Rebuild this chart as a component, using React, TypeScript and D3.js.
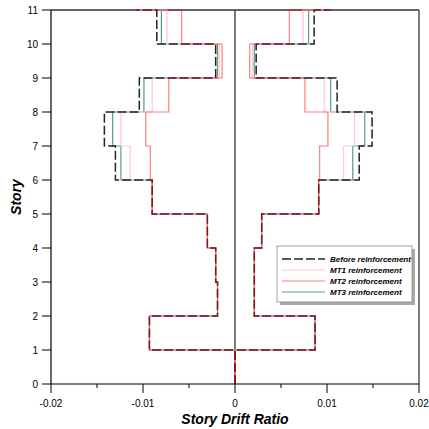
import React from "react";
import * as d3 from "d3";

// story intervals 1..10, plus roof value at story 11
const stories = [1, 2, 3, 4, 5, 6, 7, 8, 9, 10];
const yTicks = [0, 1, 2, 3, 4, 5, 6, 7, 8, 9, 10, 11];
const xTicks = [-0.02, -0.01, 0, 0.01, 0.02];
const xMinor = [-0.015, -0.005, 0.005, 0.015];

const beforeLeft = [-0.0093, -0.0019, -0.0021, -0.003, -0.009, -0.013, -0.0142, -0.0104, -0.0021, -0.0085, -0.0108];
const mt1Left = [-0.0093, -0.0019, -0.0021, -0.003, -0.009, -0.0114, -0.0124, -0.009, -0.0017, -0.0074, -0.0108];
const mt2Left = [-0.0093, -0.0019, -0.0021, -0.003, -0.009, -0.0092, -0.0097, -0.0072, -0.0014, -0.0058, -0.0108];
const mt3Left = [-0.0093, -0.0019, -0.0021, -0.003, -0.009, -0.0124, -0.0133, -0.0099, -0.0019, -0.008, -0.0108];

const beforeRight = [0.0087, 0.0021, 0.0021, 0.0029, 0.0091, 0.0135, 0.0149, 0.0111, 0.0023, 0.0086, 0.0105];
const mt1Right = [0.0087, 0.0021, 0.0021, 0.0029, 0.0091, 0.0118, 0.013, 0.0097, 0.0019, 0.0074, 0.0105];
const mt2Right = [0.0087, 0.0021, 0.0021, 0.0029, 0.0091, 0.0092, 0.0101, 0.0076, 0.0016, 0.0059, 0.0105];
const mt3Right = [0.0087, 0.0021, 0.0021, 0.0029, 0.0091, 0.0128, 0.0141, 0.0104, 0.0021, 0.008, 0.0105];

const legendNames = ["Before reinforcement", "MT1 reinforcement", "MT2 reinforcement", "MT3 reinforcement"];

const W = 429, H = 429;
const x = d3.scaleLinear().domain([-0.02, 0.02]).range([51, 419]);
const y = d3.scaleLinear().domain([0, 11]).range([384, 10]);

// step profile: (0,0) -> (0,1) -> (v1,1) -> (v1,2) -> ... -> (v10,11) -> (roof,11)
function profile(vals: number[]): [number, number][] {
  const pts: [number, number][] = [[0, 0], [0, 1]];
  stories.forEach((s, i) => {
    pts.push([vals[i], s]);
    pts.push([vals[i], s + 1]);
  });
  pts.push([vals[stories.length], 11]);
  return pts;
}

const line = d3.line<[number, number]>().x(d => x(d[0])).y(d => y(d[1]));

const styles = [
  { stroke: "#222", width: 1.5, dash: "9,3", opacity: 1 },
  { stroke: "#ffc4e4", width: 1.2, dash: "", opacity: 1 },
  { stroke: "#ff0000", width: 1.2, dash: "", opacity: 0.5 },
  { stroke: "#5a9e80", width: 1.2, dash: "", opacity: 1 },
];

export default function App() {
  const font = "Arial, 'Liberation Sans', sans-serif";
  const series = [
    { l: beforeLeft, r: beforeRight, s: styles[0] },
    { l: mt1Left, r: mt1Right, s: styles[1] },
    { l: mt2Left, r: mt2Right, s: styles[2] },
    { l: mt3Left, r: mt3Right, s: styles[3] },
  ];
  // draw order: MT3, MT1, Before, MT2 (translucent on top)
  const order = [3, 1, 0, 2];
  const lx = 277, ly = 246, lw = 135, lh = 56;
  return (
    <svg width={W} height={H} style={{ position: "absolute", left: 0, top: 0 }} fontFamily={font}>
      <rect width={W} height={H} fill="#fff" />
      {/* frame */}
      <line x1={x(-0.02)} x2={x(0.02)} y1={y(11)} y2={y(11)} stroke="#333" strokeWidth={1.3} />
      <line x1={x(0.02)} x2={x(0.02)} y1={y(11)} y2={y(0)} stroke="#555" strokeWidth={1.5} />
      <line x1={x(0)} x2={x(0)} y1={y(11)} y2={y(0)} stroke="#444" strokeWidth={1.4} />
      {/* series */}
      {order.map(i => {
        const { l, r, s } = series[i];
        return (
          <g key={i} fill="none" stroke={s.stroke} strokeWidth={s.width} strokeDasharray={s.dash || undefined} opacity={s.opacity}>
            <path d={line(profile(l)) || ""} />
            <path d={line(profile(r)) || ""} />
          </g>
        );
      })}
      {/* axes */}
      <line x1={x(-0.02)} x2={x(-0.02)} y1={y(11)} y2={y(0)} stroke="#000" strokeWidth={1.2} />
      <line x1={x(-0.02)} x2={x(0.02)} y1={y(0)} y2={y(0)} stroke="#000" strokeWidth={1.2} />
      {yTicks.map(t => (
        <g key={t}>
          <line x1={x(-0.02) - 9} x2={x(-0.02)} y1={y(t)} y2={y(t)} stroke="#000" />
          <text x={x(-0.02) - 13} y={y(t) + 3.5} fontSize={10} textAnchor="end" fill="#000">{t}</text>
        </g>
      ))}
      {xTicks.map(t => (
        <g key={t}>
          <line x1={x(t)} x2={x(t)} y1={y(0)} y2={y(0) + 9} stroke="#000" />
          <text x={x(t)} y={y(0) + 23} fontSize={10} textAnchor="middle" fill="#000">{t === 0 ? "0" : t}</text>
        </g>
      ))}
      {xMinor.map(t => (
        <line key={t} x1={x(t)} x2={x(t)} y1={y(0)} y2={y(0) + 4} stroke="#000" />
      ))}
      <text x={x(0)} y={424} fontSize={14} fontWeight="bold" fontStyle="italic" textAnchor="middle" fill="#000">Story Drift Ratio</text>
      <text transform={`translate(21,${y(5.5)}) rotate(-90)`} fontSize={14} fontWeight="bold" fontStyle="italic" textAnchor="middle" fill="#000">Story</text>
      {/* legend */}
      <rect x={lx + 3} y={ly + 3} width={lw} height={lh} fill="#aaa" />
      <rect x={lx} y={ly} width={lw} height={lh} fill="#fff" stroke="#888" strokeWidth={0.8} />
      {legendNames.map((n, i) => {
        const yy = ly + 13 + i * 11;
        const s = styles[i];
        return (
          <g key={n}>
            <line x1={lx + 5} x2={lx + 48} y1={yy} y2={yy} stroke={s.stroke} strokeWidth={s.width} strokeDasharray={s.dash || undefined} opacity={s.opacity} />
            <text x={lx + 53} y={yy + 3} fontSize={8} fontWeight="bold" fontStyle="italic" fill="#000">{n}</text>
          </g>
        );
      })}
    </svg>
  );
}
